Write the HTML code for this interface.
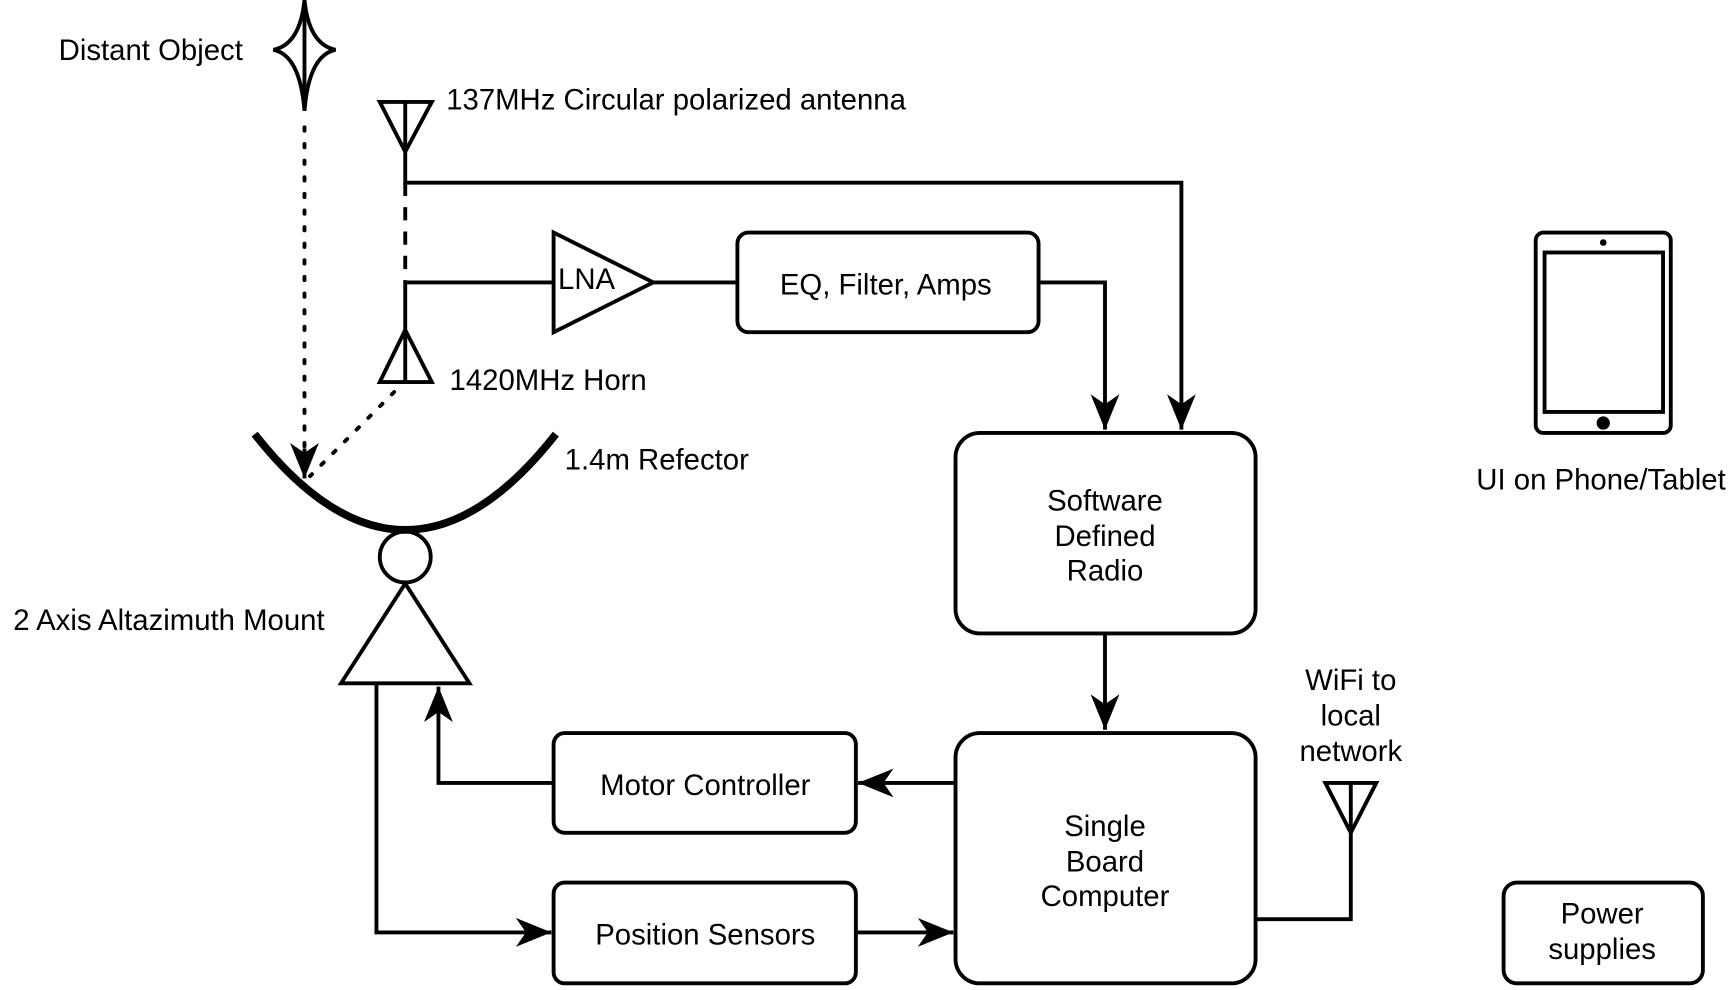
<!DOCTYPE html>
<html><head><meta charset="utf-8"><style>
html,body{margin:0;padding:0;background:#fff;}
svg{display:block;}
text{font-family:"Liberation Sans",Arial,sans-serif;font-size:26.5px;fill:#000;}
</style></head><body>
<svg width="1735" height="990" viewBox="0 0 1567 894" preserveAspectRatio="none" xmlns="http://www.w3.org/2000/svg">
<defs>
<marker id="arb" markerWidth="34" markerHeight="34" refX="32" refY="17" orient="auto" markerUnits="userSpaceOnUse"><path d="M0,4 L32,17 L0,30 L9,17 Z" fill="#000"/></marker>
</defs>
<g fill="none" stroke="#000" stroke-width="3.5">
<path d="M275,0 Q279,40 303,45 Q279,50 275,100 Q271,50 247,45 Q271,40 275,0 Z" fill="#fff"/>
<line x1="275" y1="0" x2="275" y2="100"/>
<line x1="275" y1="115" x2="275" y2="410" stroke-dasharray="3,12" stroke-linecap="round"/>
<line x1="275" y1="405" x2="275" y2="432" marker-end="url(#arb)"/>
<path d="M343,92 L390,92 L366,137 Z M366,92 L366,137"/>
<polyline points="366,137 366,165 1067,165 1067,388" marker-end="url(#arb)"/>
<line x1="366" y1="165" x2="366" y2="255" stroke-dasharray="12,10"/>
<polyline points="500,255 366,255 366,298"/>
<path d="M366,298 L390,345 L343,345 Z M366,298 L366,345"/>
<line x1="356" y1="354" x2="280" y2="430" stroke-dasharray="3,12" stroke-linecap="round"/>
<path d="M500,210 L500,300 L590,255 Z"/>
<line x1="590" y1="255" x2="666" y2="255"/>
<rect x="666" y="210" width="272" height="90" rx="10"/>
<polyline points="938,255 998,255 998,388" marker-end="url(#arb)"/>
<rect x="863" y="391" width="271" height="181" rx="22"/>
<line x1="998" y1="572" x2="998" y2="659" marker-end="url(#arb)"/>
<rect x="863" y="662" width="271" height="226" rx="22"/>
<rect x="500" y="662" width="273" height="90" rx="10"/>
<line x1="863" y1="707" x2="775" y2="707" marker-end="url(#arb)"/>
<polyline points="500,707 396,707 396,620" marker-end="url(#arb)"/>
<rect x="500" y="797" width="273" height="91" rx="10"/>
<line x1="773" y1="842" x2="861" y2="842" marker-end="url(#arb)"/>
<polyline points="340,618 340,842 498,842" marker-end="url(#arb)"/>
<circle cx="366" cy="503" r="23"/>
<path d="M366,527 L424,617 L308,617 Z"/>
<path d="M230,392 Q366,565 502,392" stroke-width="7"/>
<path d="M1197,707 L1243,707 L1220,752 Z M1220,707 L1220,752"/>
<polyline points="1220,752 1220,830 1134,830"/>
<rect x="1387" y="210" width="122" height="181" rx="7"/>
<rect x="1395" y="228" width="107" height="144"/>
<rect x="1358" y="797" width="180" height="91" rx="12"/>
</g>
<circle cx="1448" cy="219" r="3" fill="#000"/>
<circle cx="1448" cy="382" r="6" fill="#000"/>
<text x="53" y="54">Distant Object</text>
<text x="403" y="99">137MHz Circular polarized antenna</text>
<text x="406" y="352">1420MHz Horn</text>
<text x="510" y="424">1.4m Refector</text>
<text x="12" y="569">2 Axis Altazimuth Mount</text>
<text x="504" y="261">LNA</text>
<g text-anchor="middle">
<text x="800" y="266">EQ, Filter, Amps</text>
<text x="998" y="461">Software</text>
<text x="998" y="493">Defined</text>
<text x="998" y="524">Radio</text>
<text x="998" y="755">Single</text>
<text x="998" y="787">Board</text>
<text x="998" y="818">Computer</text>
<text x="637" y="718">Motor Controller</text>
<text x="637" y="853">Position Sensors</text>
<text x="1220" y="623">WiFi to</text>
<text x="1220" y="655">local</text>
<text x="1220" y="687">network</text>
<text x="1446" y="442">UI on Phone/Tablet</text>
<text x="1447" y="834">Power</text>
<text x="1447" y="866">supplies</text>
</g>
</svg>
</body></html>
